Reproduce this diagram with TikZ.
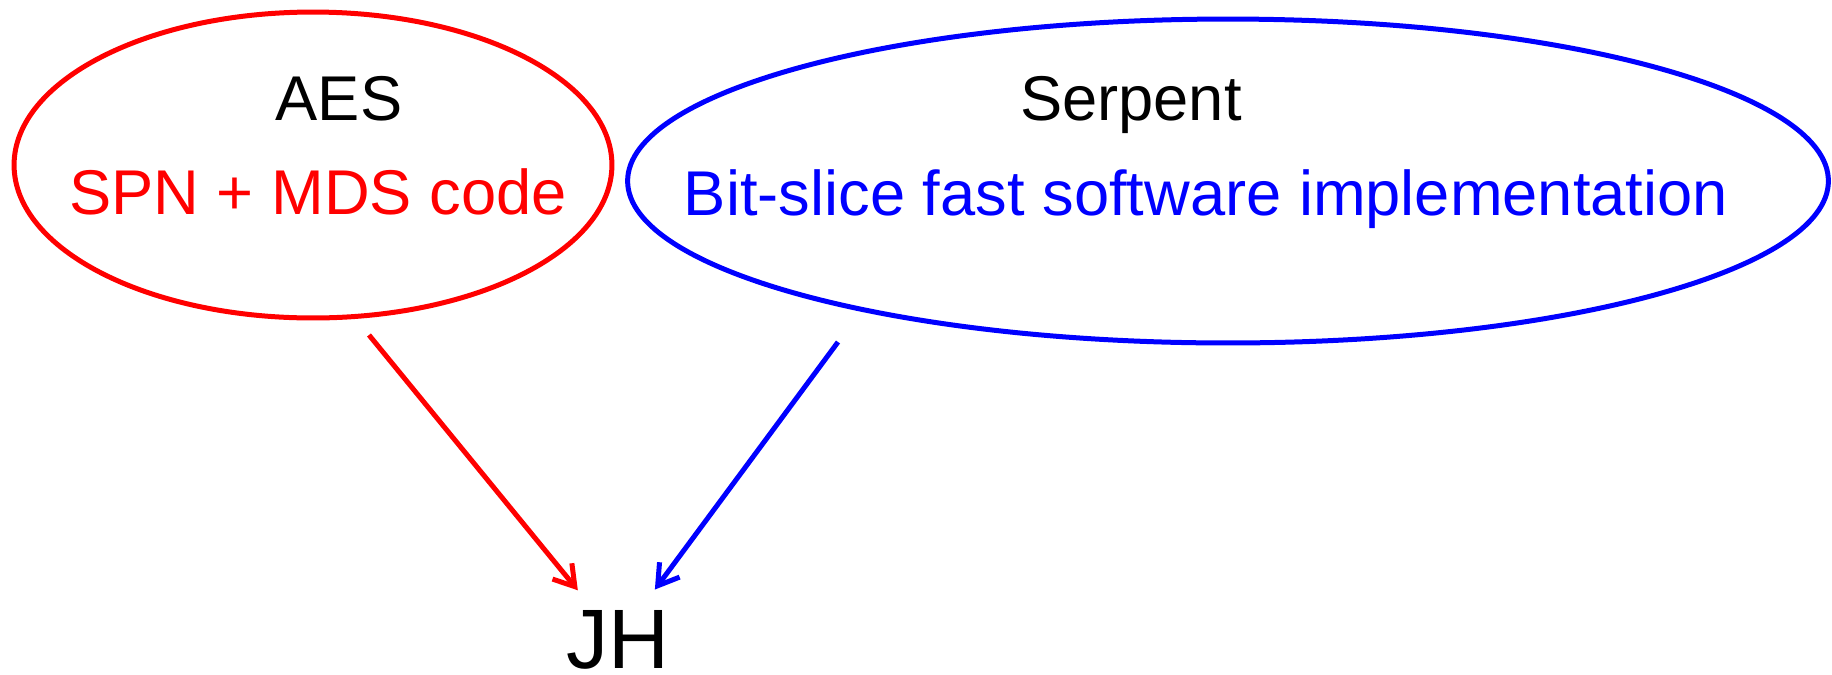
\documentclass[tikz,border=0pt]{standalone}
\usepackage{fontspec}
\setmainfont{Liberation Sans}
\usetikzlibrary{shapes.geometric,arrows.meta}
\tikzstyle{cipher} = [draw, ellipse, line width=0.1cm, inner sep=0pt]
\tikzstyle{label} = [font=\fontsize{36}{40}\selectfont, anchor=base, inner sep=0pt]
\tikzstyle{hash} = [font=\fontsize{48}{52}\selectfont, anchor=base, inner sep=0pt]
\tikzstyle{foot} = [coordinate]
\tikzstyle{link} = [->, line width=0.1cm, shorten >=0.5cm]

\begin{document}
\begin{tikzpicture}[x=0.02cm, y=-0.02cm, >={Straight Barb[length=0.4cm,width=0.5cm]}]
    \useasboundingbox (0,0) rectangle (1832,674);

    % We start by placing the two ciphers
    \node [cipher, red, minimum width=11.96cm, minimum height=6.12cm] (aes) at (313,165) {};
    \node [cipher, blue, minimum width=24.02cm, minimum height=6.48cm] (serpent) at (1228,181) {};
    \node [label] (aesname) at (339,120) {AES};
    \node [label, red] (aesidea) at (318,214) {SPN + MDS code};
    \node [label] (serpentname) at (1131,120) {Serpent};
    \node [label, blue] (serpentidea) at (1206,215) {Bit-slice fast software implementation};

    % The hash function below, fed by both
    \node [hash] (jh) at (618,668) {JH};
    \node [foot] (aesfoot) at (369,335) {};
    \node [foot] (serpentfoot) at (838,342) {};

    \draw [link, red] (aesfoot) -- (jh);
    \draw [link, blue] (serpentfoot) -- (jh);
\end{tikzpicture}
\end{document}
